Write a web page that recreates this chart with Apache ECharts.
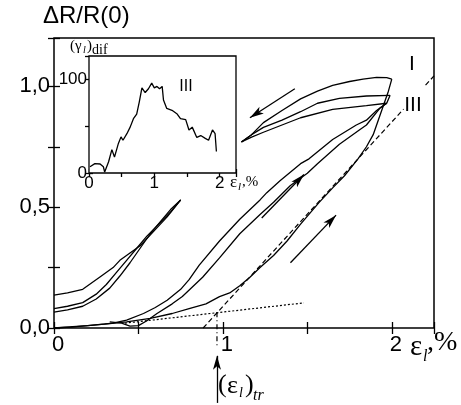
<!DOCTYPE html>
<html>
<head>
<meta charset="utf-8">
<script src="https://cdn.jsdelivr.net/npm/echarts@6/dist/echarts.min.js"></script>
<style>
  html, body { margin: 0; padding: 0; background: #fff; }
  #chart { width: 461px; height: 405px; }
</style>
</head>
<body>
<div id="chart"></div>
<script>
// main plot: strain eps_l (%) vs dR/R(0)
const loadIx = [0, 0.1, 0.2, 0.3, 0.43, 0.57, 0.7, 0.8, 0.9, 0.98, 1.04, 1.1, 1.16, 1.22, 1.3, 1.38, 1.46, 1.57, 1.65, 1.72, 1.8, 1.85, 1.89, 1.92, 1.95, 1.98, 2.0];
const loadIy = [0, 0.004, 0.01, 0.016, 0.025, 0.04, 0.06, 0.08, 0.1, 0.13, 0.145, 0.175, 0.21, 0.25, 0.3, 0.36, 0.43, 0.52, 0.58, 0.63, 0.7, 0.75, 0.8, 0.86, 0.92, 0.98, 1.03];
const unloadIx = [2.0, 1.97, 1.91, 1.83, 1.75, 1.65, 1.56, 1.46, 1.35, 1.24, 1.17, 1.11];
const unloadIy = [1.03, 1.036, 1.037, 1.03, 1.02, 1.004, 0.98, 0.948, 0.9, 0.85, 0.8, 0.77];

const loadIIx = [0, 0.2, 0.35, 0.43, 0.53, 0.6, 0.67, 0.75, 0.8, 0.86, 0.98, 1.06, 1.1, 1.22, 1.26, 1.34, 1.46, 1.51, 1.65, 1.79, 1.85, 1.91, 1.97, 1.99];
const loadIIy = [0, 0.01, 0.02, 0.033, 0.06, 0.085, 0.115, 0.16, 0.2, 0.26, 0.36, 0.42, 0.45, 0.53, 0.56, 0.61, 0.68, 0.7, 0.78, 0.84, 0.86, 0.9, 0.93, 0.963];
const unloadIIx = [1.99, 1.85, 1.69, 1.56, 1.46, 1.35, 1.24, 1.17, 1.11];
const unloadIIy = [0.963, 0.96, 0.95, 0.93, 0.895, 0.86, 0.83, 0.8, 0.77];

const loadIIIx = [0.33, 0.4, 0.45, 0.5, 0.55, 0.61, 0.7, 0.76, 0.88, 0.98, 1.1, 1.22, 1.3, 1.4, 1.5, 1.56, 1.69, 1.81, 1.85, 1.93, 1.97];
const loadIIIy = [0.025, 0.02, 0.008, 0.01, 0.03, 0.06, 0.1, 0.13, 0.21, 0.29, 0.39, 0.47, 0.52, 0.59, 0.64, 0.68, 0.76, 0.82, 0.84, 0.91, 0.93];
const unloadIIIx = [1.97, 1.85, 1.65, 1.46, 1.35, 1.24, 1.17, 1.11];
const unloadIIIy = [0.93, 0.92, 0.905, 0.87, 0.84, 0.81, 0.79, 0.77];

const leftAx = [0, 0.08, 0.17, 0.27, 0.35, 0.39, 0.45, 0.51, 0.59, 0.67, 0.75];
const leftAy = [0.136, 0.145, 0.16, 0.21, 0.25, 0.28, 0.31, 0.34, 0.4, 0.46, 0.53];
const leftBx = [0, 0.08, 0.17, 0.25, 0.31, 0.37, 0.43, 0.49, 0.55, 0.62, 0.69, 0.75];
const leftBy = [0.08, 0.09, 0.105, 0.14, 0.18, 0.23, 0.28, 0.33, 0.38, 0.43, 0.48, 0.53];
const leftCx = [0, 0.08, 0.17, 0.25, 0.33, 0.39, 0.45, 0.51, 0.57, 0.63, 0.69, 0.75];
const leftCy = [0.066, 0.075, 0.09, 0.12, 0.165, 0.215, 0.27, 0.33, 0.39, 0.44, 0.49, 0.53];

// construction lines
const steepX = [0.883, 2.07];
const steepY = [0, 0.906];
const steepTopX = [2.2, 2.25];
const steepTopY = [1.005, 1.043];
const flatX = [0.42, 1.48];
const flatY = [0.02, 0.104];
const trX = [0.965, 0.965];
const trY = [0.065, -0.075];

// arrows [x0, y0, x1, y1]
const arrows = [
  [1.426, 0.99, 1.16, 0.87],
  [1.23, 0.455, 1.48, 0.635],
  [1.4, 0.27, 1.67, 0.467],
  [0.965, -0.31, 0.965, -0.115]
];

// inset: (gamma_l)_dif vs eps_l
const insetX = [0.015, 0.09, 0.17, 0.22, 0.24, 0.3, 0.35, 0.39, 0.42, 0.45, 0.49, 0.52, 0.58, 0.63, 0.68, 0.73, 0.77, 0.81, 0.86, 0.91, 0.96, 1.0, 1.04, 1.08, 1.12, 1.14, 1.19, 1.27, 1.35, 1.4, 1.48, 1.53, 1.58, 1.65, 1.71, 1.78, 1.83, 1.89, 1.93, 1.95];
const insetY = [6.7, 10, 9.6, 6.7, 1, 12, 25, 17, 15.6, 31.6, 38.6, 35, 42, 49, 58, 63, 76, 91, 86, 90, 96, 91, 92.5, 90, 92.5, 78, 69, 67, 63, 58, 57, 46, 49, 38, 40, 37, 35, 46, 42, 23];

const xTicks = [0, 1, 2];
const yTicks = [0, 0.5, 1.0];
const insetYTicks = [0, 100];

const sans = "'Liberation Sans', Arial, sans-serif";
const serif = "'Liberation Serif', 'Times New Roman', serif";

function pairs(xs, ys) {
  return xs.map((x, i) => [x, ys[i]]);
}

function curve(xs, ys, style) {
  return {
    type: 'line',
    xAxisIndex: 0,
    yAxisIndex: 0,
    data: pairs(xs, ys),
    symbol: 'none',
    clip: false,
    z: 3,
    lineStyle: Object.assign({ color: '#000', width: 1.3 }, style || {})
  };
}

function axisPart(grid, pos, showLabel, opts) {
  return Object.assign({
    type: 'value',
    gridIndex: grid,
    position: pos,
    axisLine: { show: false },
    splitLine: { show: false },
    axisTick: { show: true, inside: true, length: 6, lineStyle: { color: '#000', width: 1.3 } },
    axisLabel: { show: showLabel }
  }, opts);
}

const chart = echarts.init(document.getElementById('chart'));

const mainX = { min: 0, max: 2.25, interval: 0.5 };
const mainY = { min: 0, max: 1.2, interval: 0.25 };
const insX = { min: 0, max: 2.25, interval: 0.5 };
const insY = { min: 0, max: 125, interval: 50 };

function smallTick(o) {
  o.axisTick.length = 4;
  return o;
}

const text = (t, x, y, font, align) => ({
  type: 'text',
  x: x,
  y: y,
  z: 10,
  style: { text: t, font: font, fill: '#000', align: align || 'left', verticalAlign: 'middle' }
});

chart.setOption({
  animation: false,
  backgroundColor: '#fff',
  grid: [
    { left: 54, top: 38, width: 380, height: 290, show: true, borderColor: '#000', borderWidth: 1.5, backgroundColor: 'transparent' },
    { left: 89, top: 56, width: 147, height: 117, show: true, borderColor: '#000', borderWidth: 1.3, backgroundColor: '#fff', z: 1 }
  ],
  xAxis: [
    axisPart(0, 'bottom', true, Object.assign({}, mainX, {
      axisLabel: {
        show: true, margin: 6, fontSize: 22, fontFamily: sans, color: '#000', padding: [0, 0, 0, 8],
        formatter: v => xTicks.indexOf(v) >= 0 ? String(v) : ''
      }
    })),
    axisPart(0, 'top', false, mainX),
    smallTick(axisPart(1, 'bottom', true, Object.assign({}, insX, {
      axisLabel: {
        show: true, margin: 2, fontSize: 17, fontFamily: sans, color: '#000',
        formatter: v => xTicks.indexOf(v) >= 0 ? String(v) : ''
      }
    }))),
    smallTick(axisPart(1, 'top', false, insX))
  ],
  yAxis: [
    axisPart(0, 'left', true, Object.assign({}, mainY, {
      axisLabel: {
        show: true, margin: 4, fontSize: 22, fontFamily: sans, color: '#000',
        formatter: v => yTicks.indexOf(v) >= 0 ? v.toFixed(1).replace('.', ',') : ''
      }
    })),
    axisPart(0, 'right', false, mainY),
    smallTick(axisPart(1, 'left', true, Object.assign({}, insY, {
      axisLabel: {
        show: true, margin: 2, fontSize: 17, fontFamily: sans, color: '#000',
        formatter: v => insetYTicks.indexOf(v) >= 0 ? String(v) : ''
      }
    }))),
    smallTick(axisPart(1, 'right', false, insY))
  ],
  series: [
    curve(loadIx, loadIy),
    curve(unloadIx, unloadIy),
    curve(loadIIx, loadIIy),
    curve(unloadIIx, unloadIIy),
    curve(loadIIIx, loadIIIy),
    curve(unloadIIIx, unloadIIIy),
    curve(leftAx, leftAy),
    curve(leftBx, leftBy),
    curve(leftCx, leftCy),
    curve(steepX, steepY, { type: [5, 3], width: 1.2 }),
    curve(steepTopX, steepTopY, { type: [5, 3], width: 1.2 }),
    curve(flatX, flatY, { type: [2, 2], width: 1.2 }),
    curve(trX, trY, { type: [5, 3, 1, 3], width: 1.2 }),
    {
      type: 'lines',
      coordinateSystem: 'cartesian2d',
      xAxisIndex: 0,
      yAxisIndex: 0,
      clip: false,
      z: 3,
      symbol: ['none', 'arrow'],
      symbolSize: [1, [6, 14]],
      lineStyle: { color: '#000', width: 1.3, opacity: 1 },
      data: arrows.map(a => ({ coords: [[a[0], a[1]], [a[2], a[3]]] }))
    },
    {
      type: 'line',
      xAxisIndex: 2,
      yAxisIndex: 2,
      data: pairs(insetX, insetY),
      symbol: 'none',
      z: 5,
      lineStyle: { color: '#000', width: 1.3 }
    }
  ],
  graphic: [
    text('ΔR/R(0)', 43, 16, '24px ' + sans),
    text('I', 412, 64, '21px ' + sans, 'center'),
    text('III', 413, 105, '21px ' + sans, 'center'),
    text('III', 186, 87, '16px ' + sans, 'center'),
    // (gamma_l)_dif
    text('(γ', 70, 46, '15px ' + serif),
    text('l', 83, 50, 'italic 10px ' + serif),
    text(')', 87, 46, '15px ' + serif),
    text('dif', 92, 50, '14px ' + serif),
    // inset axis name
    text('ε', 230, 183, '17px ' + serif),
    text('l', 238, 187, 'italic 11px ' + serif),
    text(',%', 242, 182, '15px ' + serif),
    // main axis name
    text('ε', 410, 347, '29px ' + serif),
    text('l', 423, 357, 'italic 16px ' + serif),
    text(',%', 427, 343, '28px ' + serif),
    // transition strain
    text('(', 218, 385, '26px ' + serif),
    text('ε', 227, 386, '26px ' + serif),
    text('l', 239, 393, 'italic 14px ' + serif),
    text(')', 245, 385, '26px ' + serif),
    text('tr', 253, 396, 'italic 16px ' + serif)
  ]
});
</script>
</body>
</html>
